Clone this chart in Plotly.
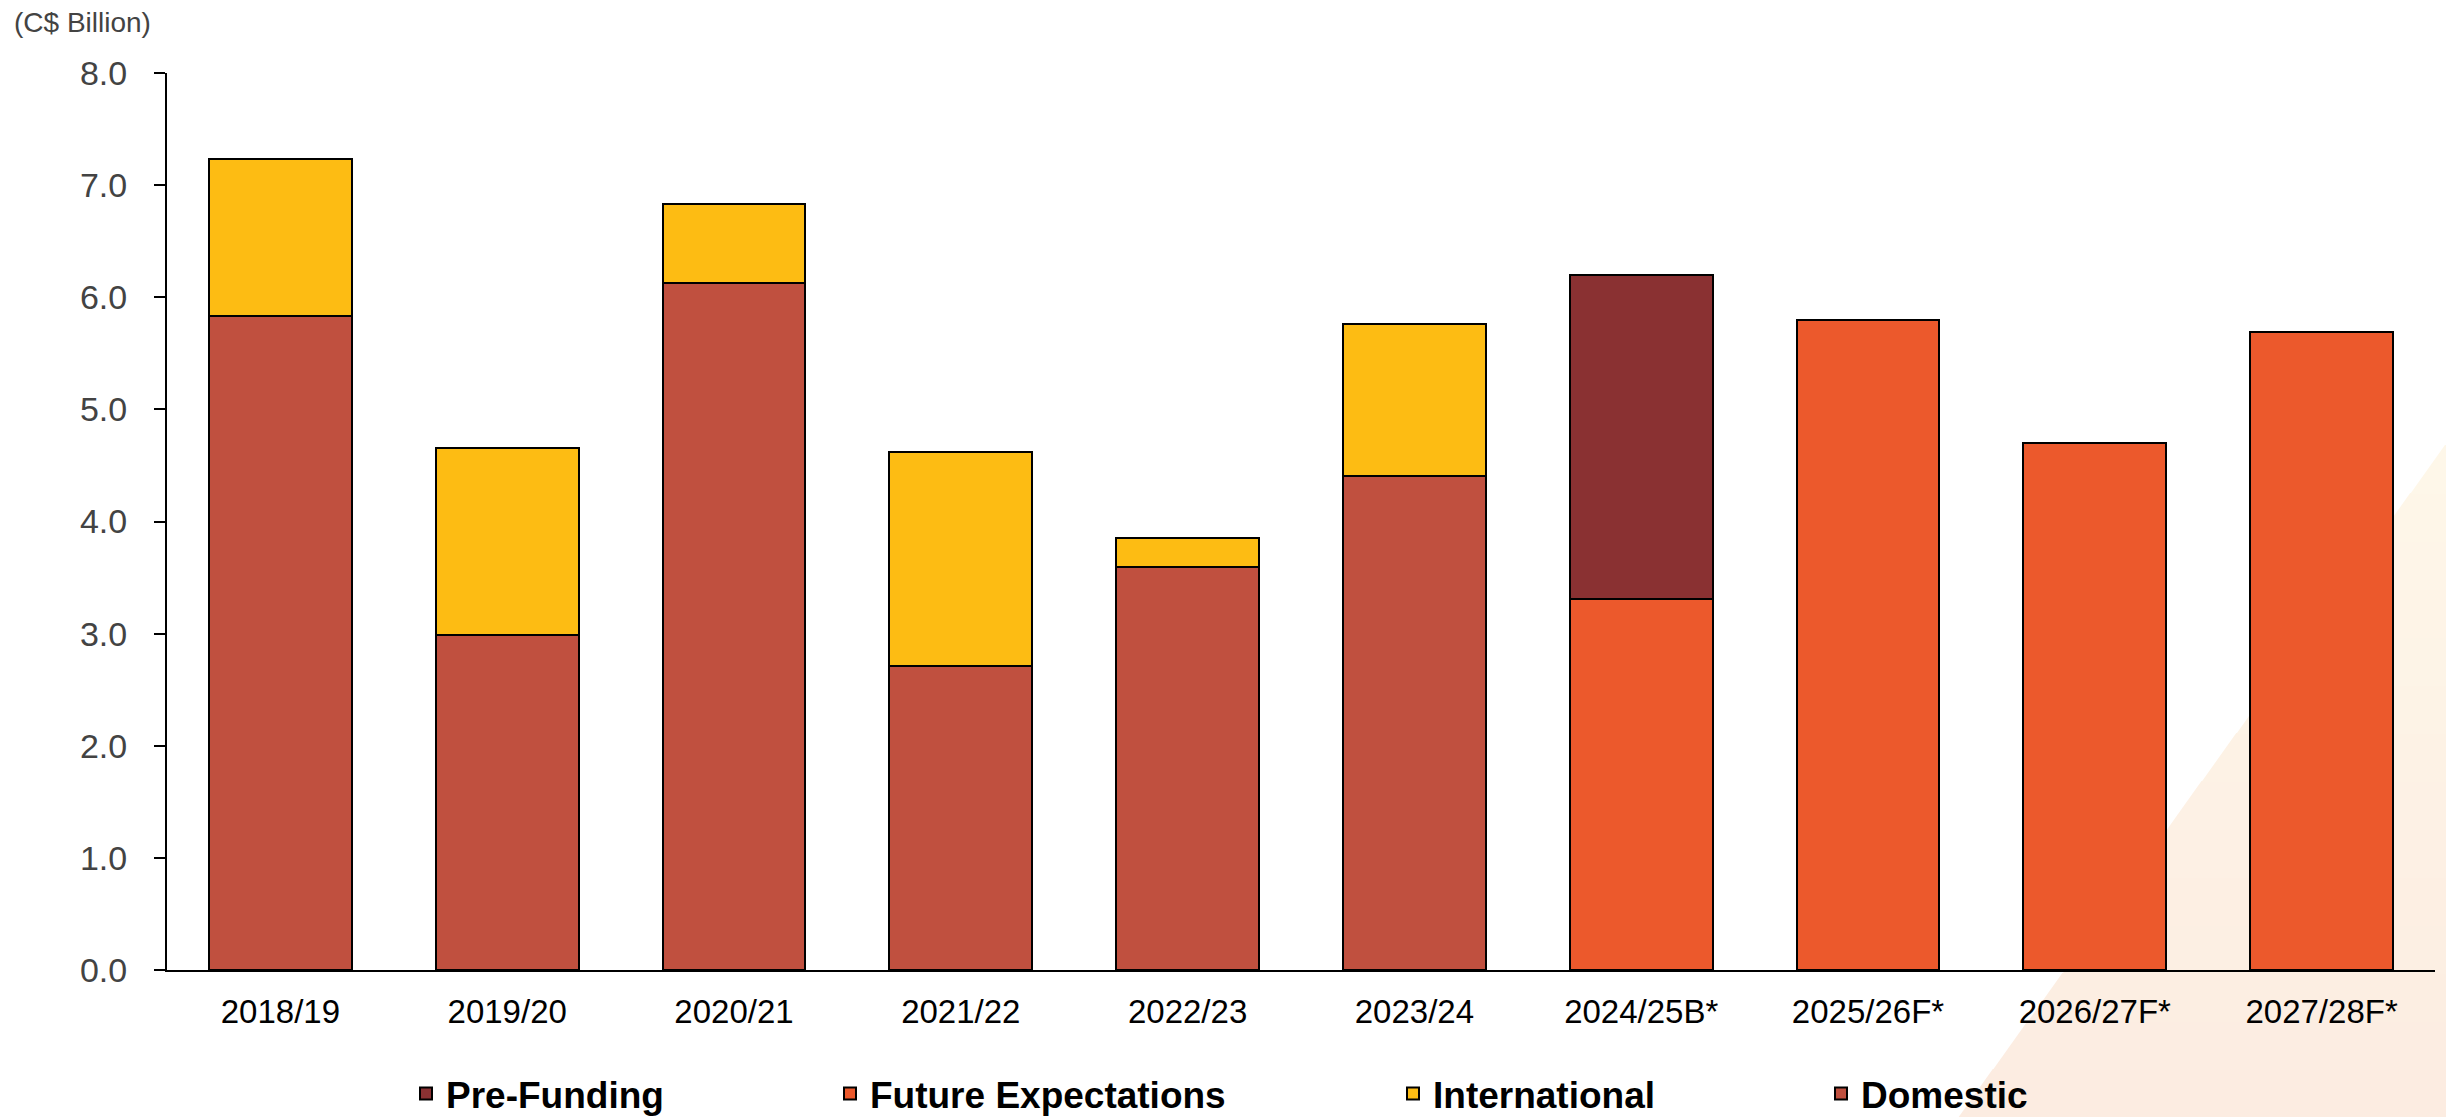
import plotly.graph_objects as go

# Values (C$ billion)
years = [
    "2018/19", "2019/20", "2020/21", "2021/22", "2022/23",
    "2023/24", "2024/25B*", "2025/26F*", "2026/27F*", "2027/28F*",
]
domestic = [5.83, 2.99, 6.13, 2.71, 3.59, 4.41, None, None, None, None]
international = [1.40, 1.67, 0.70, 1.91, 0.26, 1.35, None, None, None, None]
future_expectations = [None, None, None, None, None, None, 3.31, 5.80, 4.70, 5.69]
pre_funding = [None, None, None, None, None, None, 2.89, None, None, None]

COLORS = {
    "Domestic": "#C0503F",
    "International": "#FDBC13",
    "Future Expectations": "#EC592C",
    "Pre-Funding": "#8A3132",
}

W, H = 2446, 1117
L, R, T, B = 167, 11, 73, 147
PW, PH = W - L - R, H - T - B


def px_to_paper(x, y):
    """Convert page pixel position to paper coords of the plot area."""
    return (x - L) / PW, (H - B - y) / PH


fig = go.Figure()

# stacking order: bottom first
series = [
    ("Domestic", domestic, "legend4"),
    ("Future Expectations", future_expectations, "legend2"),
    ("International", international, "legend3"),
    ("Pre-Funding", pre_funding, "legend"),
]
for name, vals, leg in series:
    fig.add_trace(
        go.Bar(
            x=years,
            y=vals,
            name=name,
            marker=dict(color=COLORS[name], line=dict(color="black", width=2)),
            legend=leg,
            hoverinfo="x+y+name",
        )
    )

# decorative faded wedge in the bottom-right corner, faked gradient with bands
shapes = []
base_y, top_y = 1117, 445
x_bottom, slope = 1958, 1.38
n_bands = 14
c0 = (252, 236, 225)  # peach at bottom
c1 = (254, 247, 233)  # cream at top
for i in range(n_bands):
    ya = base_y - (base_y - top_y) * i / n_bands
    yb = base_y - (base_y - top_y) * (i + 1) / n_bands
    xa = x_bottom + (base_y - ya) / slope
    xb = x_bottom + (base_y - yb) / slope
    t = i / (n_bands - 1)
    col = "rgb({},{},{})".format(*[round(c0[k] + (c1[k] - c0[k]) * t) for k in range(3)])
    pts = [px_to_paper(xa, ya + 1), px_to_paper(W + 5, ya + 1),
           px_to_paper(W + 5, yb), px_to_paper(xb, yb)]
    path = "M " + " L ".join(f"{x:.5f},{y:.5f}" for x, y in pts) + " Z"
    shapes.append(dict(type="path", xref="paper", yref="paper", path=path,
                       fillcolor=col, line=dict(width=0), layer="below"))

leg_font = dict(family="Liberation Sans, Arial, sans-serif", size=37,
                color="black", weight="bold")
leg_y = px_to_paper(0, 1094)[1]
legend_centres = {"legend": 426, "legend2": 850, "legend3": 1413, "legend4": 1841}
legends = {}
for key, cx in legend_centres.items():
    legends[key] = dict(
        x=px_to_paper(cx - 20, 0)[0],
        y=leg_y,
        xanchor="left",
        yanchor="middle",
        orientation="h",
        bgcolor="rgba(0,0,0,0)",
        font=leg_font,
        borderwidth=0,
        tracegroupgap=0,
    )

fig.update_layout(
    width=W,
    height=H,
    autosize=False,
    barmode="stack",
    bargap=0.37,
    margin=dict(l=L, r=R, t=T, b=B, pad=0, autoexpand=False),
    paper_bgcolor="white",
    plot_bgcolor="rgba(0,0,0,0)",
    font=dict(family="Liberation Sans, Arial, sans-serif"),
    showlegend=True,
    shapes=shapes,
    xaxis=dict(
        showline=True,
        linecolor="black",
        linewidth=2,
        ticks="",
        showgrid=False,
        tickfont=dict(size=33, color="black"),
        ticklabelstandoff=11,
    ),
    yaxis=dict(
        range=[0, 8],
        dtick=1,
        tickformat=".1f",
        showline=True,
        linecolor="black",
        linewidth=2,
        ticks="outside",
        ticklen=11,
        tickwidth=2,
        tickcolor="black",
        showgrid=False,
        zeroline=False,
        tickfont=dict(size=34, color="#434343"),
        ticklabelstandoff=20,
    ),
    annotations=[
        dict(
            text="(C$ Billion)",
            xref="paper",
            yref="paper",
            x=px_to_paper(12, 0)[0],
            y=px_to_paper(0, 23)[1],
            xanchor="left",
            yanchor="middle",
            showarrow=False,
            font=dict(size=28, color="#434343"),
        )
    ],
    **legends,
)

# drop the default 8px body margin so the figure sits flush in the window
fig.write_html(
    "out.html",
    config={"displayModeBar": False},
    post_script="document.body.style.margin='0px';",
)
